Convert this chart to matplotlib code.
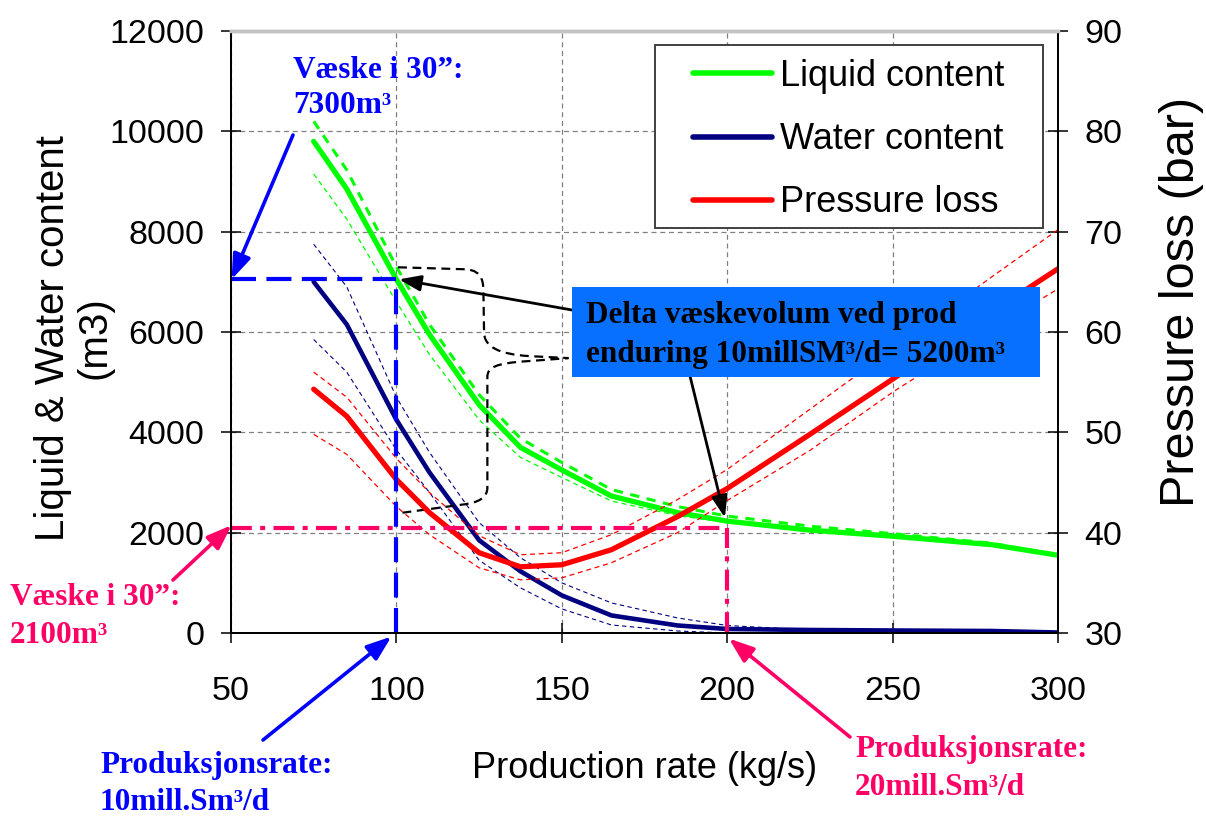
import matplotlib
matplotlib.use("Agg")
import matplotlib.pyplot as plt
from matplotlib import font_manager
from matplotlib.path import Path
from matplotlib.patches import PathPatch, Rectangle

# ---- data -------------------------------------------------------------
rate = [75, 85, 100, 110, 125, 137.5, 150, 165, 185, 200, 225, 250, 280, 300]

liquid = [9800, 8850, 7050, 5950, 4550, 3700, 3250, 2730, 2400, 2230, 2050, 1930, 1760, 1550]
liquid_hi = [10200, 9230, 7300, 6150, 4750, 3880, 3400, 2860, 2520, 2330, 2130, 1980, 1790, 1550]
liquid_lo = [9150, 8250, 6600, 5550, 4250, 3500, 3100, 2630, 2340, 2200]

water = [7000, 6150, 4250, 3200, 1850, 1230, 750, 350, 150, 80, 60, 50, 40, 10]
water_hi = [7750, 6900, 4700, 3600, 2200, 1500, 1000, 600, 300, 150, 60]
water_lo = [5850, 5200, 3650, 2800, 1450, 900, 480, 160, 40, 0]

pressure = [54.3, 51.6, 45.3, 42.0, 38.0, 36.6, 36.8, 38.3, 41.6, 44.4, 49.8, 55.3, 62.0, 66.3]
pressure_hi = [56.0, 53.5, 47.4, 44.0, 39.7, 37.8, 38.0, 39.8, 43.3, 46.3, 52.3, 58.3, 65.5, 70.2]
pressure_lo = [49.8, 47.8, 42.6, 39.8, 36.5, 35.3, 35.5, 37.0, 40.0, 43.2, 48.2, 54.0, 60.3, 64.3]

x_ticks = [50, 100, 150, 200, 250, 300]
y_ticks = [0, 2000, 4000, 6000, 8000, 10000, 12000]
p_ticks = [30, 40, 50, 60, 70, 80, 90]

# reference operating points
rate_10 = 100          # 10 mill. Sm3/d
level_10 = liquid[rate.index(rate_10)]
rate_20 = 200          # 20 mill. Sm3/d
level_20 = 2100

# ---- styling ----------------------------------------------------------
W, H = 1206, 818
GREEN = "#00FF00"
NAVY = "#000080"
RED = "#FF0000"
BLUE = "#0000FF"
PINK = "#FF0066"
BOX = "#0870FF"

names = {f.name for f in font_manager.fontManager.ttflist}
SANS = "Liberation Sans"
TICK_FONT = "Liberation Sans Narrow" if "Liberation Sans Narrow" in names else SANS
TICK_SIZE = 27 if TICK_FONT != SANS else 24.5
SERIF = "Liberation Serif"


def px(x, y):
    """Figure-pixel position (origin top-left) to figure fraction."""
    return x / W, 1 - y / H


fig = plt.figure(figsize=(W / 100, H / 100), dpi=100)
left, right, top, bottom = 231, 1058, 31, 633
ax = fig.add_axes([left / W, 1 - bottom / H, (right - left) / W, (bottom - top) / H])
ax2 = ax.twinx()

ax.set_xlim(50, 300)
ax.set_ylim(0, 12000)
ax2.set_ylim(30, 90)
ax.set_xticks(x_ticks)
ax.set_yticks(y_ticks)
ax2.set_yticks(p_ticks)

ax.grid(True, color="#808080", linestyle=(0, (4, 3)), linewidth=0.9)
ax.set_axisbelow(True)

for a in (ax, ax2):
    for side in ("left", "right", "bottom"):
        a.spines[side].set_color("black")
        a.spines[side].set_linewidth(1.4)
    a.spines["top"].set_color("#C4C4C4")
    a.spines["top"].set_linewidth(2.5)

ax.tick_params(axis="x", direction="inout", length=14, width=1.1, pad=24, labelsize=TICK_SIZE)
ax.tick_params(axis="y", direction="inout", length=14, width=1.1, pad=12, labelsize=TICK_SIZE)
ax2.tick_params(axis="y", direction="inout", length=14, width=1.1, pad=12, labelsize=TICK_SIZE)
for lab in ax.get_xticklabels() + ax.get_yticklabels() + ax2.get_yticklabels():
    lab.set_fontfamily(TICK_FONT)

# ---- curves -----------------------------------------------------------
ax.plot(rate, liquid_hi, color=GREEN, lw=2.2, ls=(0, (3, 2.5)))
ax.plot(rate[:len(liquid_lo)], liquid_lo, color=GREEN, lw=0.9, ls=(0, (4, 3)))
l_liq, = ax.plot(rate, liquid, color=GREEN, lw=3.8, solid_capstyle="round")

ax.plot(rate[:len(water_hi)], water_hi, color=NAVY, lw=0.8, ls=(0, (4, 3)))
ax.plot(rate[:len(water_lo)], water_lo, color=NAVY, lw=0.8, ls=(0, (4, 3)))
l_wat, = ax.plot(rate, water, color=NAVY, lw=3.3, solid_capstyle="round")

ax2.plot(rate, pressure_hi, color=RED, lw=0.9, ls=(0, (4, 3)))
ax2.plot(rate, pressure_lo, color=RED, lw=0.9, ls=(0, (4, 3)))
l_prs, = ax2.plot(rate, pressure, color=RED, lw=3.8, solid_capstyle="round")

# ---- reference lines at 10 and 20 mill. Sm3/d --------------------------
T = ax.transData
ax2.plot([50, rate_10], [level_10, level_10], color=BLUE, lw=3, ls=(0, (6, 2.5)), transform=T, clip_on=False)
ax2.plot([rate_10, rate_10], [0, level_10], color=BLUE, lw=3, ls=(0, (6, 2.5)), transform=T, clip_on=False)
ax2.plot([50, rate_20], [level_20, level_20], color=PINK, lw=3, ls=(0, (5, 2, 1.2, 2)), transform=T, clip_on=False)
ax2.plot([rate_20, rate_20], [0, level_20], color=PINK, lw=3, ls=(0, (5, 2, 1.2, 2)), transform=T, clip_on=False)

# dashed brace spanning the liquid volume difference
brace_verts = [
    (100.5, 7290), (121, 7250), (126.3, 7230), (126.3, 6950), (126.3, 6800),
    (126.5, 6000), (126.5, 5700), (131, 5560), (140, 5520), (152, 5480),
    (140, 5420), (130, 5380), (127.5, 5300), (127.5, 5100),
    (127.5, 2900), (127.5, 2700), (125, 2600), (120, 2560), (101, 2390),
]
brace_codes = [Path.MOVETO, Path.LINETO, Path.CURVE4, Path.CURVE4, Path.CURVE4,
               Path.LINETO, Path.CURVE4, Path.CURVE4, Path.CURVE4, Path.LINETO,
               Path.LINETO, Path.CURVE4, Path.CURVE4, Path.CURVE4,
               Path.LINETO, Path.CURVE4, Path.CURVE4, Path.CURVE4, Path.LINETO]
ax2.add_patch(PathPatch(Path(brace_verts, brace_codes), transform=T, fill=False,
                        edgecolor="black", lw=1.6, ls=(0, (4, 2.5)), clip_on=False))

# ---- annotation box ---------------------------------------------------
fig.patches.append(Rectangle((572 / W, 1 - 377 / H), (1040 - 572) / W, (377 - 287) / H,
                             transform=fig.transFigure, facecolor=BOX, edgecolor="none", zorder=5))
serif_kw = dict(family=SERIF, weight="bold", size=22.5, va="baseline", ha="left", zorder=6)
fig.text(*px(586, 323), "Delta væskevolum ved prod", color="black", **serif_kw)
fig.text(*px(586, 362), "enduring 10millSM³/d= 5200m³", color="black", **serif_kw)

# ---- arrows -----------------------------------------------------------
def arrow(xy, start, color, lw, scale):
    ax2.annotate("", xy=xy, xycoords=T, xytext=(start[0], H - start[1]),
                 textcoords="figure pixels", annotation_clip=False,
                 arrowprops=dict(arrowstyle="-|>,head_length=0.6,head_width=0.22",
                                 color=color, lw=lw, mutation_scale=scale,
                                 shrinkA=0, shrinkB=0))

arrow((50.2, level_10), (293, 135), BLUE, 2.6, 25)
arrow((98.5, -70), (263, 740), BLUE, 2.6, 25)
arrow((50.2, level_20 + 50), (173, 580), PINK, 2.6, 25)
arrow((200.5, -110), (850, 737), PINK, 2.6, 25)
arrow((100.8, level_10), (572, 310), "black", 2.0, 22)
arrow((199.3, 2300), (688, 368), "black", 2.0, 22)

# ---- annotation texts -------------------------------------------------
fig.text(*px(293, 78), "Væske i 30”:", color=BLUE, **serif_kw)
fig.text(*px(293, 113), "7300m³", color=BLUE, **serif_kw)
fig.text(*px(10, 605), "Væske i 30”:", color=PINK, **serif_kw)
fig.text(*px(10, 643), "2100m³", color=PINK, **serif_kw)
fig.text(*px(100, 773), "Produksjonsrate:", color=BLUE, **serif_kw)
fig.text(*px(100, 810), "10mill.Sm³/d", color=BLUE, **serif_kw)
fig.text(*px(855, 757), "Produksjonsrate:", color=PINK, **serif_kw)
fig.text(*px(855, 795), "20mill.Sm³/d", color=PINK, **serif_kw)

# ---- axis titles ------------------------------------------------------
fig.text(*px(645, 768), "Production rate (kg/s)", family=SANS, size=26, ha="center", va="center")
fig.text(*px(74, 338), "Liquid & Water content\n(m3)", family=SANS, size=29, rotation=90,
         ha="center", va="center", multialignment="center", linespacing=1.1)
fig.text(*px(1181, 302), "Pressure loss (bar)", family=SANS, size=35, rotation=90,
         ha="center", va="center")

# ---- legend -----------------------------------------------------------
fig.patches.append(Rectangle((655 / W, 1 - 228 / H), (1043 - 655) / W, (228 - 45) / H,
                             transform=fig.transFigure, facecolor="white",
                             edgecolor="#404040", lw=1.4, zorder=3))
leg = fig.legend([l_liq, l_wat, l_prs], ["Liquid content", "Water content", "Pressure loss"],
                 loc="upper left", bbox_to_anchor=px(693, 59), borderaxespad=0, borderpad=0,
                 frameon=False, prop={"family": SANS, "size": 26},
                 handlelength=2.2, handletextpad=0.22, labelspacing=0.78)
leg.set_zorder(4)
for h in leg.get_lines():
    h.set_linewidth(4)
    h.set_solid_capstyle("round")

fig.savefig("out.png", dpi=100)
